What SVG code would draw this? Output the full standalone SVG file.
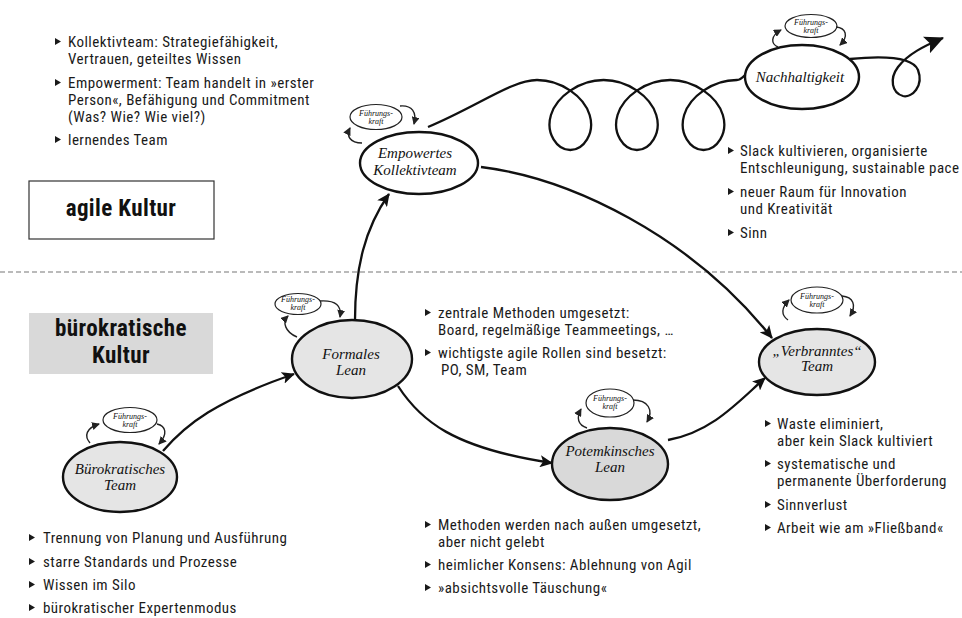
<svg xmlns="http://www.w3.org/2000/svg" xmlns:xlink="http://www.w3.org/1999/xlink" width="962" height="618" viewBox="0 0 962 618">
<style>
.lst{font-family:"Liberation Sans Narrow","Roboto Condensed","DejaVu Sans Condensed","Liberation Sans",sans-serif;font-size:15px;letter-spacing:0.45px;fill:#1a1a1a}
.hd{font-family:"Liberation Sans Narrow","Roboto Condensed","Liberation Sans",sans-serif;font-weight:bold;font-size:23px;letter-spacing:0.4px;text-anchor:middle;fill:#111}
.nt{font-family:"Liberation Serif","DejaVu Serif",serif;font-style:italic;font-size:15px;text-anchor:middle;fill:#111}
.fk{font-family:"Liberation Serif","DejaVu Serif",serif;font-style:italic;font-size:8px;text-anchor:middle;fill:#111}
.node{stroke:#111;stroke-width:2.4}
.white{fill:#fff}
.grey{fill:#e5e5e5}
.dgrey{fill:#d9d9d9}
.fkel{fill:#fff;stroke:#222;stroke-width:1.2}
.conn{fill:none;stroke:#111;stroke-width:2.3;marker-end:url(#arr)}
.fka{fill:none;stroke:#222;stroke-width:1.4;marker-end:url(#ah)}
.bul{fill:#1a1a1a}
</style>
<defs>
<marker id="arr" markerWidth="14" markerHeight="12" refX="12" refY="6" orient="auto" markerUnits="userSpaceOnUse"><path d="M0,0 L13,6 L0,12 L3,6 Z" fill="#111"/></marker>
<marker id="arrBig" markerWidth="20" markerHeight="18" refX="18" refY="9" orient="auto" markerUnits="userSpaceOnUse"><path d="M0,0 L19,9 L0,18 L4,9 Z" fill="#111"/></marker>
<marker id="ah" markerWidth="9" markerHeight="8" refX="7" refY="4" orient="auto" markerUnits="userSpaceOnUse"><path d="M0,0 L8,4 L0,8 Z" fill="#222"/></marker>
<path id="b" d="M0,-9 L6,-5.5 L0,-2 Z"/>
</defs>
<rect width="962" height="618" fill="#fff"/>

<line x1="0" y1="272" x2="962" y2="272" stroke="#777" stroke-width="1.2" stroke-dasharray="5,3"/>

<g id="agile-kultur">
<rect x="29" y="181" width="185" height="58" fill="#fff" stroke="#333" stroke-width="1.2"/>
<text class="hd" x="121" y="216">agile Kultur</text>
</g>
<g id="buerokratische-kultur">
<rect x="29" y="313" width="184" height="61" fill="#d9d9d9"/>
<text class="hd" x="121" y="336">bürokratische</text>
<text class="hd" x="121" y="363">Kultur</text>
</g>

<g id="connectors">
<path class="conn" d="M163,451 C186,424 216,401 294,374"/>
<path class="conn" d="M355,320 C355,268 365,228 389,194"/>
<path class="conn" d="M398,386 C420,420 452,448 552,463"/>
<path class="conn" d="M668,440 C712,432 738,402 765,378"/>
<path class="conn" d="M481,167 C570,178 690,235 772,338"/>
<path fill="none" stroke="#111" stroke-width="2.3" d="M428,127 C478,106 512,80 537,80 C561.4,80 584.1,96.7 589.65,115 C595.2,133.3 583.6,150 570.3,150 C557,150 545.4,133.3 550.95,115 C556.5,96.7 579.2,80 603.6,80 C628,80 650.7,96.7 656.25,115 C661.8,133.3 650.2,150 636.9,150 C623.6,150 612,133.3 617.55,115 C623.1,96.7 645.8,80 670.2,80 C694.6,80 717.3,96.7 722.85,115 C728.4,133.3 716.8,150 703.5,150 C690.2,150 678.6,133.3 684.15,115 C689.7,96.7 712.4,80 736.8,80 C741,80 743,77 746,74"/>
<path fill="none" stroke="#111" stroke-width="2.3" marker-end="url(#arrBig)" d="M850,59 C880,56 912,56 918,70 C924,86 912,98 903,96 C892,93 889,79 898,67 C908,54 924,46 943,38"/>
</g>

<g id="node-buerokratisches-team">
<ellipse class="node grey" cx="120" cy="477" rx="57" ry="35"/>
<text class="nt" x="120" y="474">Bürokratisches</text>
<text class="nt" x="120" y="490">Team</text>
<ellipse class="fkel" cx="130" cy="420" rx="27" ry="12.5"/>
<text class="fk" x="130" y="419">Führungs-</text>
<text class="fk" x="130" y="427">kraft</text>
<path class="fka" d="M90,443 C84,436 86,428 99,424"/>
<path class="fka" d="M157,424 C166,426 168,434 159,444"/>
</g>

<g id="node-formales-lean">
<ellipse class="node grey" cx="352" cy="359" rx="60" ry="39"/>
<text class="nt" x="351" y="359">Formales</text>
<text class="nt" x="351" y="375">Lean</text>
<ellipse class="fkel" cx="298" cy="304" rx="23" ry="10.5"/>
<text class="fk" x="298" y="302">Führungs-</text>
<text class="fk" x="298" y="310">kraft</text>
<path class="fka" d="M297,337 C285,332 282,322 288,316"/>
<path class="fka" d="M320,301 C336,300 342,306 340,317"/>
</g>

<g id="node-empowertes-kollektivteam">
<ellipse class="node white" cx="419" cy="163" rx="59" ry="31"/>
<text class="nt" x="415" y="158">Empowertes</text>
<text class="nt" x="415" y="175">Kollektivteam</text>
<ellipse class="fkel" cx="376" cy="117" rx="26" ry="12.5"/>
<text class="fk" x="376" y="116">Führungs-</text>
<text class="fk" x="376" y="124">kraft</text>
<path class="fka" d="M362,143 C350,143 346,136 350,128"/>
<path class="fka" d="M400,106 C412,105 417,112 414,124"/>
</g>

<g id="node-nachhaltigkeit">
<ellipse class="node white" cx="802" cy="77" rx="57" ry="32"/>
<text class="nt" x="800" y="82">Nachhaltigkeit</text>
<ellipse class="fkel" cx="811" cy="26" rx="26" ry="11.5"/>
<text class="fk" x="811" y="25">Führungs-</text>
<text class="fk" x="811" y="33">kraft</text>
<path class="fka" d="M778,47 C771,44 770,36 781,30"/>
<path class="fka" d="M836,27 C846,28 849,36 840,45"/>
</g>

<g id="node-potemkinsches-lean">
<ellipse class="node dgrey" cx="610" cy="464" rx="58" ry="36"/>
<text class="nt" x="610" y="456">Potemkinsches</text>
<text class="nt" x="610" y="472">Lean</text>
<ellipse class="fkel" cx="610" cy="403" rx="24" ry="14"/>
<text class="fk" x="610" y="401">Führungs-</text>
<text class="fk" x="610" y="409">kraft</text>
<path class="fka" d="M587,428 C578,425 576,418 581,409"/>
<path class="fka" d="M633,400 C648,400 654,410 647,422"/>
</g>

<g id="node-verbranntes-team">
<ellipse class="node grey" cx="817" cy="362" rx="58" ry="33"/>
<text class="nt" x="817" y="356">„Verbranntes“</text>
<text class="nt" x="817" y="371">Team</text>
<ellipse class="fkel" cx="817" cy="300" rx="26" ry="13"/>
<text class="fk" x="817" y="299">Führungs-</text>
<text class="fk" x="817" y="307">kraft</text>
<path class="fka" d="M788,320 C781,315 781,308 789,300"/>
<path class="fka" d="M842,296 C853,297 857,305 850,316"/>
</g>

<g id="list-agile">
<use href="#b" x="55" y="47" class="bul"/>
<text class="lst" x="68" y="47">Kollektivteam: Strategiefähigkeit,</text>
<text class="lst" x="68" y="64">Vertrauen, geteiltes Wissen</text>
<use href="#b" x="55" y="88" class="bul"/>
<text class="lst" x="68" y="88">Empowerment: Team handelt in »erster</text>
<text class="lst" x="68" y="105">Person«, Befähigung und Commitment</text>
<text class="lst" x="68" y="122">(Was? Wie? Wie viel?)</text>
<use href="#b" x="55" y="145" class="bul"/>
<text class="lst" x="68" y="145">lernendes Team</text>
</g>

<g id="list-nachhaltigkeit">
<use href="#b" x="728" y="156" class="bul"/>
<text class="lst" x="740" y="156">Slack kultivieren, organisierte</text>
<text class="lst" x="740" y="173">Entschleunigung, sustainable pace</text>
<use href="#b" x="728" y="197" class="bul"/>
<text class="lst" x="740" y="197">neuer Raum für Innovation</text>
<text class="lst" x="740" y="214">und Kreativität</text>
<use href="#b" x="728" y="238" class="bul"/>
<text class="lst" x="740" y="238">Sinn</text>
</g>

<g id="list-formal">
<use href="#b" x="425" y="318" class="bul"/>
<text class="lst" x="438" y="318">zentrale Methoden umgesetzt:</text>
<text class="lst" x="438" y="335">Board, regelmäßige Teammeetings, …</text>
<use href="#b" x="425" y="358" class="bul"/>
<text class="lst" x="438" y="358">wichtigste agile Rollen sind besetzt:</text>
<text class="lst" x="441" y="375">PO, SM, Team</text>
</g>

<g id="list-verbrannt">
<use href="#b" x="765" y="429" class="bul"/>
<text class="lst" x="777" y="429">Waste eliminiert,</text>
<text class="lst" x="777" y="446">aber kein Slack kultiviert</text>
<use href="#b" x="765" y="469" class="bul"/>
<text class="lst" x="777" y="469">systematische und</text>
<text class="lst" x="777" y="486">permanente Überforderung</text>
<use href="#b" x="765" y="510" class="bul"/>
<text class="lst" x="777" y="510">Sinnverlust</text>
<use href="#b" x="765" y="533" class="bul"/>
<text class="lst" x="777" y="533">Arbeit wie am »Fließband«</text>
</g>

<g id="list-buerokratisch">
<use href="#b" x="29" y="543" class="bul"/>
<text class="lst" x="43" y="543">Trennung von Planung und Ausführung</text>
<use href="#b" x="29" y="567" class="bul"/>
<text class="lst" x="43" y="567">starre Standards und Prozesse</text>
<use href="#b" x="29" y="590" class="bul"/>
<text class="lst" x="43" y="590">Wissen im Silo</text>
<use href="#b" x="29" y="613" class="bul"/>
<text class="lst" x="43" y="613">bürokratischer Expertenmodus</text>
</g>

<g id="list-potemkin">
<use href="#b" x="425" y="530" class="bul"/>
<text class="lst" x="438" y="530">Methoden werden nach außen umgesetzt,</text>
<text class="lst" x="438" y="547">aber nicht gelebt</text>
<use href="#b" x="425" y="570" class="bul"/>
<text class="lst" x="438" y="570">heimlicher Konsens: Ablehnung von Agil</text>
<use href="#b" x="425" y="593" class="bul"/>
<text class="lst" x="438" y="593">»absichtsvolle Täuschung«</text>
</g>
</svg>
